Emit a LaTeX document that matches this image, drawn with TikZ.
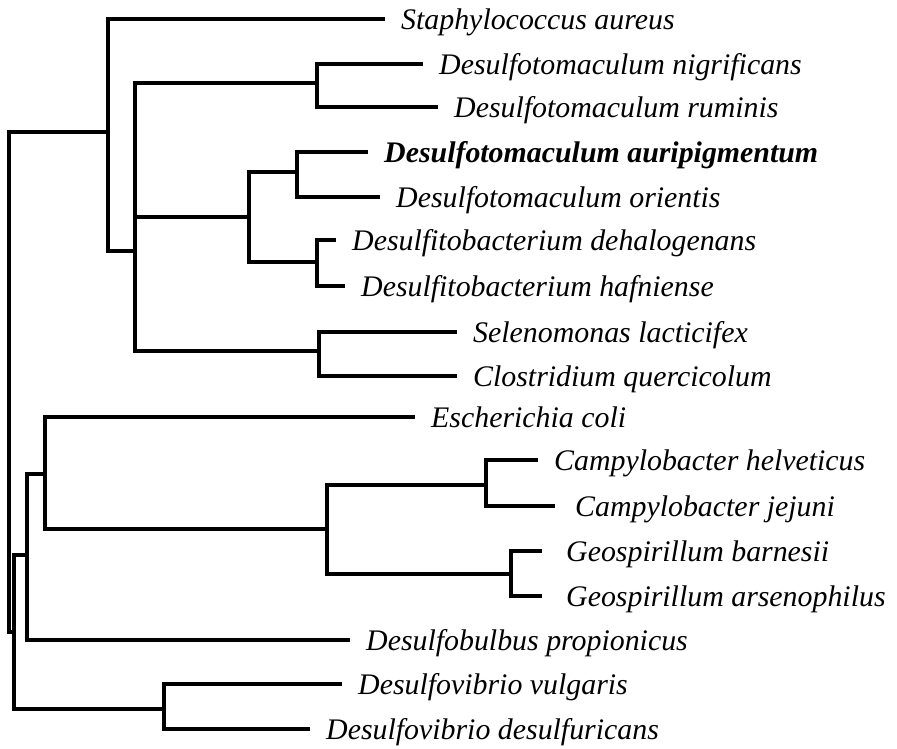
\documentclass[tikz,border=0pt]{standalone}
\usepackage{fontspec}
\setmainfont{Liberation Serif}
\usetikzlibrary{positioning}

\begin{document}
\begin{tikzpicture}[x=0.02cm, y=-0.02cm,
  branch/.style={black, line width=2pt},
  taxon/.style={right=0.2cm of #1, yshift=-0.1cm, font=\fontsize{17}{20}\selectfont\itshape,
    text height=0.8em, text depth=0.2em}]
  \useasboundingbox (0,0) rectangle (897,749);
  % Leaf tips
  \coordinate (t0) at (385,19);
  \coordinate (t1) at (423,64);
  \coordinate (t2) at (438,107);
  \coordinate (t3) at (368,152);
  \coordinate (t4) at (380,197);
  \coordinate (t5) at (336,240);
  \coordinate (t6) at (345,286);
  \coordinate (t7) at (457,332);
  \coordinate (t8) at (457,376);
  \coordinate (t9) at (415,417);
  \coordinate (t10) at (538,460);
  \coordinate (t11) at (555,506);
  \coordinate (t12) at (542,551);
  \coordinate (t13) at (542,596);
  \coordinate (t14) at (350,640);
  \coordinate (t15) at (342,684);
  \coordinate (t16) at (310,729);
  % Internal nodes
  \coordinate (root) at (9,382);
  \coordinate (ntop) at (108,132);
  \coordinate (nA) at (135,251);
  \coordinate (nB) at (317,83);
  \coordinate (nC) at (249,217);
  \coordinate (nC1) at (297,172);
  \coordinate (nC2) at (317,262);
  \coordinate (nD) at (319,351);
  \coordinate (nlow) at (14,632);
  \coordinate (nE) at (27,555);
  \coordinate (nF) at (45,474);
  \coordinate (nG) at (327,529);
  \coordinate (nH) at (486,485);
  \coordinate (nI) at (511,574);
  \coordinate (nV) at (164,709);
  % Taxa
  \node[taxon=t0] (saureus) {Staphylococcus aureus};
  \node[taxon=t1] (dnigri) {Desulfotomaculum nigrificans};
  \node[taxon=t2] (drumin) {Desulfotomaculum ruminis};
  \node[taxon=t3, font=\fontsize{17}{20}\selectfont\bfseries\itshape] (dauri) {Desulfotomaculum auripigmentum};
  \node[taxon=t4] (dorient) {Desulfotomaculum orientis};
  \node[taxon=t5] (ddehal) {Desulfitobacterium dehalogenans};
  \node[taxon=t6] (dhafn) {Desulfitobacterium hafniense};
  \node[taxon=t7] (slact) {Selenomonas lacticifex};
  \node[taxon=t8] (cquerc) {Clostridium quercicolum};
  \node[taxon=t9] (ecoli) {Escherichia coli};
  \node[taxon=t10] (chelv) {Campylobacter helveticus};
  \node[taxon=t11, xshift=0.08cm] (cjej) {Campylobacter jejuni};
  \node[taxon=t12, xshift=0.16cm] (gbarn) {Geospirillum barnesii};
  \node[taxon=t13, xshift=0.16cm] (garsen) {Geospirillum arsenophilus};
  \node[taxon=t14] (dprop) {Desulfobulbus propionicus};
  \node[taxon=t15] (dvulg) {Desulfovibrio vulgaris};
  \node[taxon=t16] (ddesulf) {Desulfovibrio desulfuricans};
  % Upper clade
  \draw[branch] (root) |- (ntop);
  \draw[branch] (ntop) |- (t0);
  \draw[branch] (ntop) |- (nA);
  \draw[branch] (nA) |- (nB);
  \draw[branch] (nA) |- (nC);
  \draw[branch] (nA) |- (nD);
  \draw[branch] (nB) |- (t1);
  \draw[branch] (nB) |- (t2);
  \draw[branch] (nC) |- (nC1);
  \draw[branch] (nC) |- (nC2);
  \draw[branch] (nC1) |- (t3);
  \draw[branch] (nC1) |- (t4);
  \draw[branch] (nC2) |- (t5);
  \draw[branch] (nC2) |- (t6);
  \draw[branch] (nD) |- (t7);
  \draw[branch] (nD) |- (t8);
  % Lower clade
  \draw[branch] (root) |- (nlow);
  \draw[branch] (nlow) |- (nE);
  \draw[branch] (nlow) |- (nV);
  \draw[branch] (nE) |- (nF);
  \draw[branch] (nE) |- (t14);
  \draw[branch] (nF) |- (t9);
  \draw[branch] (nF) |- (nG);
  \draw[branch] (nG) |- (nH);
  \draw[branch] (nG) |- (nI);
  \draw[branch] (nH) |- (t10);
  \draw[branch] (nH) |- (t11);
  \draw[branch] (nI) |- (t12);
  \draw[branch] (nI) |- (t13);
  \draw[branch] (nV) |- (t15);
  \draw[branch] (nV) |- (t16);
\end{tikzpicture}
\end{document}
